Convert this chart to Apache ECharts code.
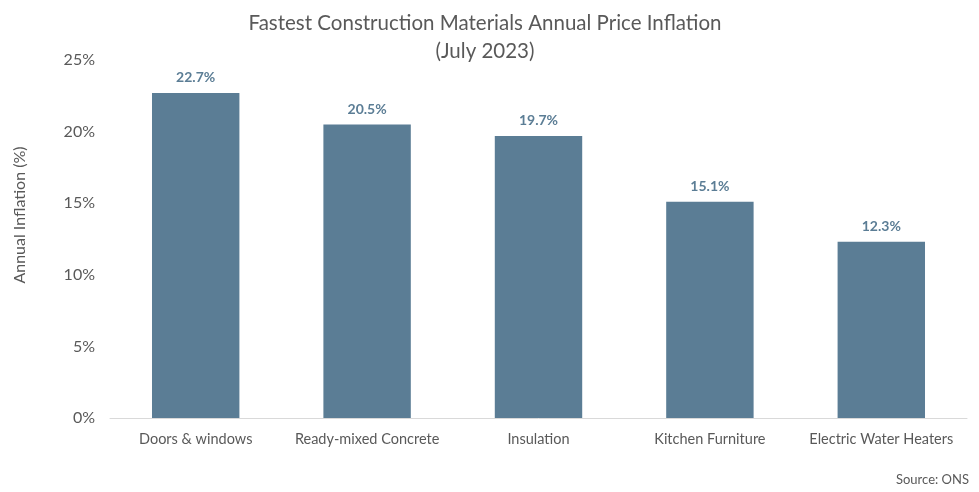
<!DOCTYPE html>
<html>
<head>
<meta charset="utf-8">
<script src="https://cdn.jsdelivr.net/npm/echarts@6/dist/echarts.min.js"></script>
<style>
  html, body { margin: 0; padding: 0; background: #fff; }
  #chart { width: 979px; height: 492px; }
</style>
</head>
<body>
<div id="chart"></div>
<script>
const categories = ['Doors & windows', 'Ready-mixed Concrete', 'Insulation', 'Kitchen Furniture', 'Electric Water Heaters']
const inflation = [22.7, 20.5, 19.7, 15.1, 12.3]

const barColor = '#5b7d95'
const textColor = '#595959'
const font = 'Lato, "Open Sans", sans-serif'

const chart = echarts.init(document.getElementById('chart'))

chart.setOption({
  animation: false,
  title: {
    text: 'Fastest Construction Materials Annual Price Inflation\n(July 2023)',
    left: 480,
    textAlign: 'center',
    top: 4,
    textStyle: { color: textColor, fontSize: 20.5, fontWeight: 'normal', fontFamily: font, lineHeight: 28 },
  },
  grid: { left: 110, right: 12, top: 60, bottom: 74 },
  xAxis: {
    type: 'category',
    data: categories,
    axisLine: { lineStyle: { color: '#d9d9d9', width: 1 } },
    axisTick: { show: false },
    axisLabel: { interval: 0, color: textColor, fontSize: 14.5, fontFamily: font, margin: 14 },
  },
  yAxis: {
    type: 'value',
    min: 0,
    max: 25,
    interval: 5,
    splitLine: { show: false },
    axisLine: { show: false },
    axisTick: { show: false },
    axisLabel: { formatter: '{value}%', color: textColor, fontSize: 16, fontFamily: font, margin: 15 },
  },
  graphic: [
    {
      type: 'text',
      x: 20,
      y: 215,
      rotation: Math.PI / 2,
      style: { text: 'Annual Inflation (%)', fill: textColor, font: '16px ' + font, align: 'center', verticalAlign: 'middle' },
    },
    {
      type: 'text',
      right: 10,
      bottom: 6,
      style: { text: 'Source: ONS', fill: textColor, font: '13px ' + font },
    },
  ],
  series: [
    {
      type: 'bar',
      data: inflation,
      barWidth: '51%',
      itemStyle: { color: barColor },
      label: {
        show: true,
        position: 'top',
        distance: 8,
        formatter: p => p.value.toFixed(1) + '%',
        color: barColor,
        fontSize: 14,
        fontWeight: 'bold',
        fontFamily: font,
      },
    },
  ],
})
</script>
</body>
</html>
